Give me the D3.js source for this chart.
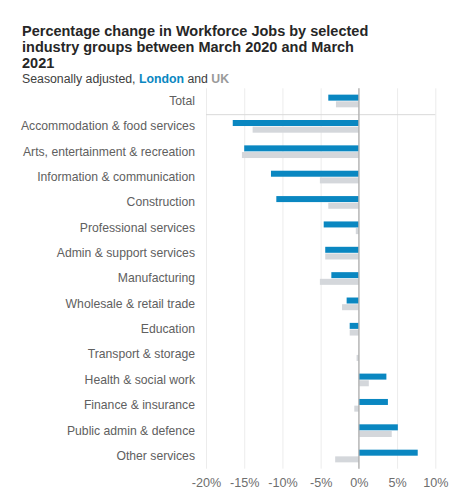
<!DOCTYPE html>
<html><head><meta charset="utf-8">
<script src="https://cdn.jsdelivr.net/npm/d3@7"></script>
<style>
body{margin:0;background:#fff;}
svg{display:block;font-family:"Liberation Sans",Arial,sans-serif;}
</style></head>
<body>
<svg id="chart" width="474" height="501"></svg>
<script>
const categories = ["Total","Accommodation & food services","Arts, entertainment & recreation","Information & communication","Construction","Professional services","Admin & support services","Manufacturing","Wholesale & retail trade","Education","Transport & storage","Health & social work","Finance & insurance","Public admin & defence","Other services"];
const london = [-4.0,-16.5,-15.0,-11.5,-10.8,-4.6,-4.4,-3.6,-1.6,-1.2,0.0,3.6,3.8,5.1,7.7];
const uk = [-3.0,-13.9,-15.3,-5.1,-4.0,-0.4,-4.4,-5.1,-2.2,-1.2,-0.3,1.3,-0.6,4.3,-3.1];
const xTicks = [-20,-15,-10,-5,0,5,10];

const svg = d3.select("#chart");
const x = d3.scaleLinear().domain([-20,10]).range([206,435.3]);
const y = d3.scaleBand().domain(categories).range([88.3,468.7]).paddingInner(0.5).paddingOuter(0.25);
const sub = d3.scaleBand().domain(["london","uk"]).range([0,y.bandwidth()]).paddingInner(0.1);

// title
const title = svg.append("g").attr("font-weight","bold").attr("font-size",14.5).attr("fill","#262626");
["Percentage change in Workforce Jobs by selected","industry groups between March 2020 and March","2021"].forEach((t,i)=>{
  title.append("text").attr("x",22).attr("y",36+i*15.8).text(t);
});
const st = svg.append("text").attr("x",22).attr("y",83).attr("font-size",12.3).attr("fill","#404040");
st.append("tspan").text("Seasonally adjusted, ");
st.append("tspan").attr("font-weight","bold").attr("fill","#0a87c1").text("London");
st.append("tspan").text(" and ");
st.append("tspan").attr("font-weight","bold").attr("fill","#9a9a9a").text("UK");

// grid
const xAxis = svg.append("g").attr("transform","translate(0,468.7)")
  .call(d3.axisBottom(x).tickValues(xTicks).tickFormat(d=>d+"%").tickSize(-380.4).tickPadding(9));
xAxis.select(".domain").remove();
xAxis.selectAll(".tick line").attr("stroke","#ececec").attr("stroke-width",1);
xAxis.selectAll(".tick text").attr("font-size",12.6).attr("fill","#6e6e6e").attr("font-family","Liberation Sans, Arial, sans-serif");

// separator under Total
svg.append("line").attr("x1",206).attr("x2",435.3)
  .attr("y1",y("Total")+y.step()-y.step()*0.25+1).attr("y2",y("Total")+y.step()-y.step()*0.25+1)
  .attr("stroke","#d9d9d9").attr("stroke-width",1);

// bars
const g = svg.append("g");
categories.forEach((c,i)=>{
  [["london",london[i],"#0a87c1"],["uk",uk[i],"#d4d7db"]].forEach(([k,v,col])=>{
    g.append("rect")
      .attr("x",x(Math.min(0,v))).attr("width",Math.abs(x(v)-x(0)))
      .attr("y",y(c)+sub(k)).attr("height",sub.bandwidth())
      .attr("fill",col);
  });
});

// zero line
svg.append("line").attr("x1",x(0)).attr("x2",x(0)).attr("y1",88.3).attr("y2",468.7)
  .attr("stroke","#b0b0b0").attr("stroke-width",1.3);

// category labels
const yAxis = svg.append("g").attr("transform","translate(206,0)")
  .call(d3.axisLeft(y).tickSize(0).tickPadding(11));
yAxis.select(".domain").remove();
yAxis.selectAll(".tick text").attr("font-size",12.2).attr("fill","#606060").attr("font-family","Liberation Sans, Arial, sans-serif");
</script>
</body></html>
